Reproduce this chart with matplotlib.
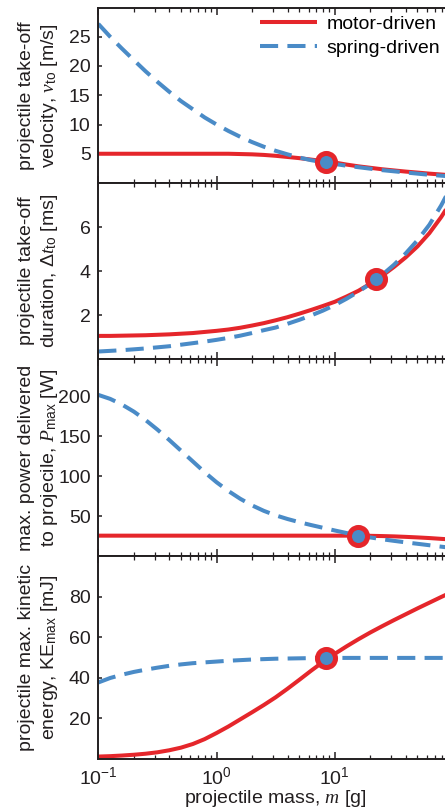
import matplotlib
matplotlib.use('Agg')
import matplotlib.pyplot as plt
from matplotlib.ticker import FixedLocator, LogLocator, NullFormatter, LogFormatterMathtext

plt.rcParams['font.family'] = ['Liberation Sans', 'DejaVu Sans']
plt.rcParams['mathtext.fontset'] = 'custom'
plt.rcParams['mathtext.rm'] = 'Liberation Sans'
plt.rcParams['mathtext.it'] = 'Liberation Serif:italic'
plt.rcParams['mathtext.bf'] = 'Liberation Sans:bold'
plt.rcParams['font.size'] = 14

# projectile mass [g], read every 0.1 decade
mass = [0.1, 0.126, 0.158, 0.2, 0.251, 0.316, 0.398, 0.501, 0.631, 0.794,
        1.0, 1.259, 1.585, 1.995, 2.512, 3.162, 3.981, 5.012, 6.31, 7.943,
        10.0, 12.59, 15.85, 19.95, 25.12, 31.62, 39.81, 50.12, 63.1, 79.43, 100.0]

# take-off velocity [m/s]
vel_motor = [5.0, 5.0, 5.0, 5.0, 5.0, 5.0, 5.0, 5.0, 5.0, 5.0,
             5.0, 5.0, 4.95, 4.9, 4.8, 4.65, 4.45, 4.25, 4.0, 3.75,
             3.5, 3.15, 2.85, 2.6, 2.35, 2.15, 1.95, 1.78, 1.6, 1.45, 1.3]
vel_spring = [27.2, 25.0, 23.0, 21.0, 19.1, 17.3, 15.6, 14.0, 12.6, 11.2,
              10.0, 8.9, 7.9, 7.0, 6.2, 5.5, 4.9, 4.35, 3.9, 3.55,
              3.25, 2.95, 2.7, 2.45, 2.2, 2.0, 1.8, 1.6, 1.4, 1.25, 1.1]

# take-off duration [ms]
dur_motor = [1.05, 1.05, 1.06, 1.07, 1.08, 1.1, 1.12, 1.15, 1.18, 1.23,
             1.28, 1.34, 1.42, 1.52, 1.63, 1.76, 1.9, 2.06, 2.23, 2.41,
             2.6, 2.84, 3.1, 3.42, 3.78, 4.18, 4.62, 5.12, 5.72, 6.45, 7.3]
dur_spring = [0.34, 0.37, 0.4, 0.44, 0.48, 0.53, 0.58, 0.65, 0.72, 0.79,
              0.87, 0.96, 1.06, 1.18, 1.31, 1.43, 1.6, 1.78, 1.98, 2.2,
              2.45, 2.74, 3.06, 3.42, 3.82, 4.28, 4.8, 5.4, 6.1, 6.98, 8.0]

# max power [W]
pow_motor = [25.5, 25.5, 25.5, 25.5, 25.5, 25.5, 25.5, 25.5, 25.5, 25.5,
             25.5, 25.5, 25.5, 25.5, 25.5, 25.5, 25.5, 25.5, 25.5, 25.5,
             25.5, 25.5, 25.5, 25.3, 25.0, 24.6, 24.0, 23.3, 22.5, 21.5, 20.5]
pow_spring = [202, 197, 190, 181, 170.5, 158.5, 145.5, 132, 118.5, 105,
              92.5, 81.5, 71.8, 63.5, 56.6, 51.0, 46.4, 42.4, 38.8, 35.4,
              32.0, 28.8, 25.9, 23.3, 21.0, 19.0, 17.1, 15.3, 13.5, 11.7, 10.0]

# max kinetic energy [mJ]
ke_motor = [1.2, 1.4, 1.7, 2.1, 2.6, 3.3, 4.3, 5.6, 7.4, 9.8,
            12.8, 16.0, 19.5, 23.0, 26.6, 30.4, 34.6, 39.0, 43.5, 47.8,
            51.8, 55.5, 59.0, 62.3, 65.4, 68.4, 71.3, 74.2, 77.0, 79.8, 82.5]
ke_spring = [37.7, 39.9, 41.5, 42.9, 44.0, 45.0, 45.9, 46.6, 47.2, 47.6,
             48.0, 48.4, 48.7, 49.0, 49.2, 49.4, 49.5, 49.6, 49.7, 49.8,
             49.8, 49.8, 49.8, 49.8, 49.8, 49.8, 49.8, 49.8, 49.8, 49.8, 49.8]

# matched design points (mass, value)
match_mass = [8.5, 22.5, 15.8, 8.5]
match_val = [3.6, 3.63, 25.0, 49.8]

ylabels = ['projectile take-off\nvelocity, $v_{\\mathrm{to}}$ [m/s]',
           'projectile take-off\nduration, $\\Delta t_{\\mathrm{to}}$ [ms]',
           'max. power delivered\nto projecile, $P_{\\mathrm{max}}$ [W]',
           'projectile max. kinetic\nenergy, KE$_{\\mathrm{max}}$ [mJ]']
ylims = [(0, 30), (0, 8), (0, 247), (0, 100)]
yticks = [[5, 10, 15, 20, 25], [2, 4, 6], [50, 100, 150, 200], [20, 40, 60, 80]]

red = '#e5262b'
blue = '#4a8bc7'
ink = '#231f20'

W, H = 445, 808
fig = plt.figure(figsize=(W / 100, H / 100), dpi=100)
left_px, right_px = 98.3, 453
rows = [(7.5, 183), (183, 359), (359, 556), (556, 759)]

motor = [vel_motor, dur_motor, pow_motor, ke_motor]
spring = [vel_spring, dur_spring, pow_spring, ke_spring]

for i in range(4):
    top, bot = rows[i]
    ax = fig.add_axes([left_px / W, 1 - bot / H, (right_px - left_px) / W, (bot - top) / H])
    ax.set_xscale('log')
    ax.plot(mass, motor[i], color=red, lw=2.9, solid_capstyle='butt', label='motor-driven')
    ax.plot(mass, spring[i], color=blue, lw=2.9, dashes=(4.5, 2.3), label='spring-driven')
    ax.plot(match_mass[i], match_val[i], 'o', ms=13, mfc=blue, mec=red, mew=3.6, zorder=5)
    ax.set_xlim(0.1, 100)
    ax.set_ylim(*ylims[i])
    ax.yaxis.set_major_locator(FixedLocator(yticks[i]))
    ax.xaxis.set_major_locator(FixedLocator([0.1, 1, 10]))
    ax.xaxis.set_minor_locator(LogLocator(base=10, subs=range(2, 10)))
    ax.xaxis.set_minor_formatter(NullFormatter())
    for s in ax.spines.values():
        s.set_linewidth(1.4)
        s.set_color(ink)
    ax.tick_params(axis='both', which='both', direction='in', colors=ink, labelcolor=ink)
    ax.tick_params(axis='x', which='major', length=5, width=1.1, top=True, pad=5)
    ax.tick_params(axis='x', which='minor', length=3, width=0.9, top=True)
    ax.tick_params(axis='y', which='major', length=3, width=1.1, right=False, pad=5.5)
    ax.set_ylabel(ylabels[i], linespacing=1.25, color=ink)
    ax.yaxis.set_label_coords(-0.108, 0.5)
    if i < 3:
        ax.xaxis.set_major_formatter(NullFormatter())
    else:
        ax.xaxis.set_major_formatter(LogFormatterMathtext())
        ax.set_xlabel('projectile mass, $m$ [g]', labelpad=0, color=ink)
    if i == 0:
        ax.legend(loc='upper right', bbox_to_anchor=(440 / W, 1 - 15 / H),
                  bbox_transform=fig.transFigure, frameon=False, borderaxespad=0,
                  borderpad=0, handlelength=2.9, handletextpad=0.5, labelspacing=0.35)

fig.savefig('out.png', dpi=100)
